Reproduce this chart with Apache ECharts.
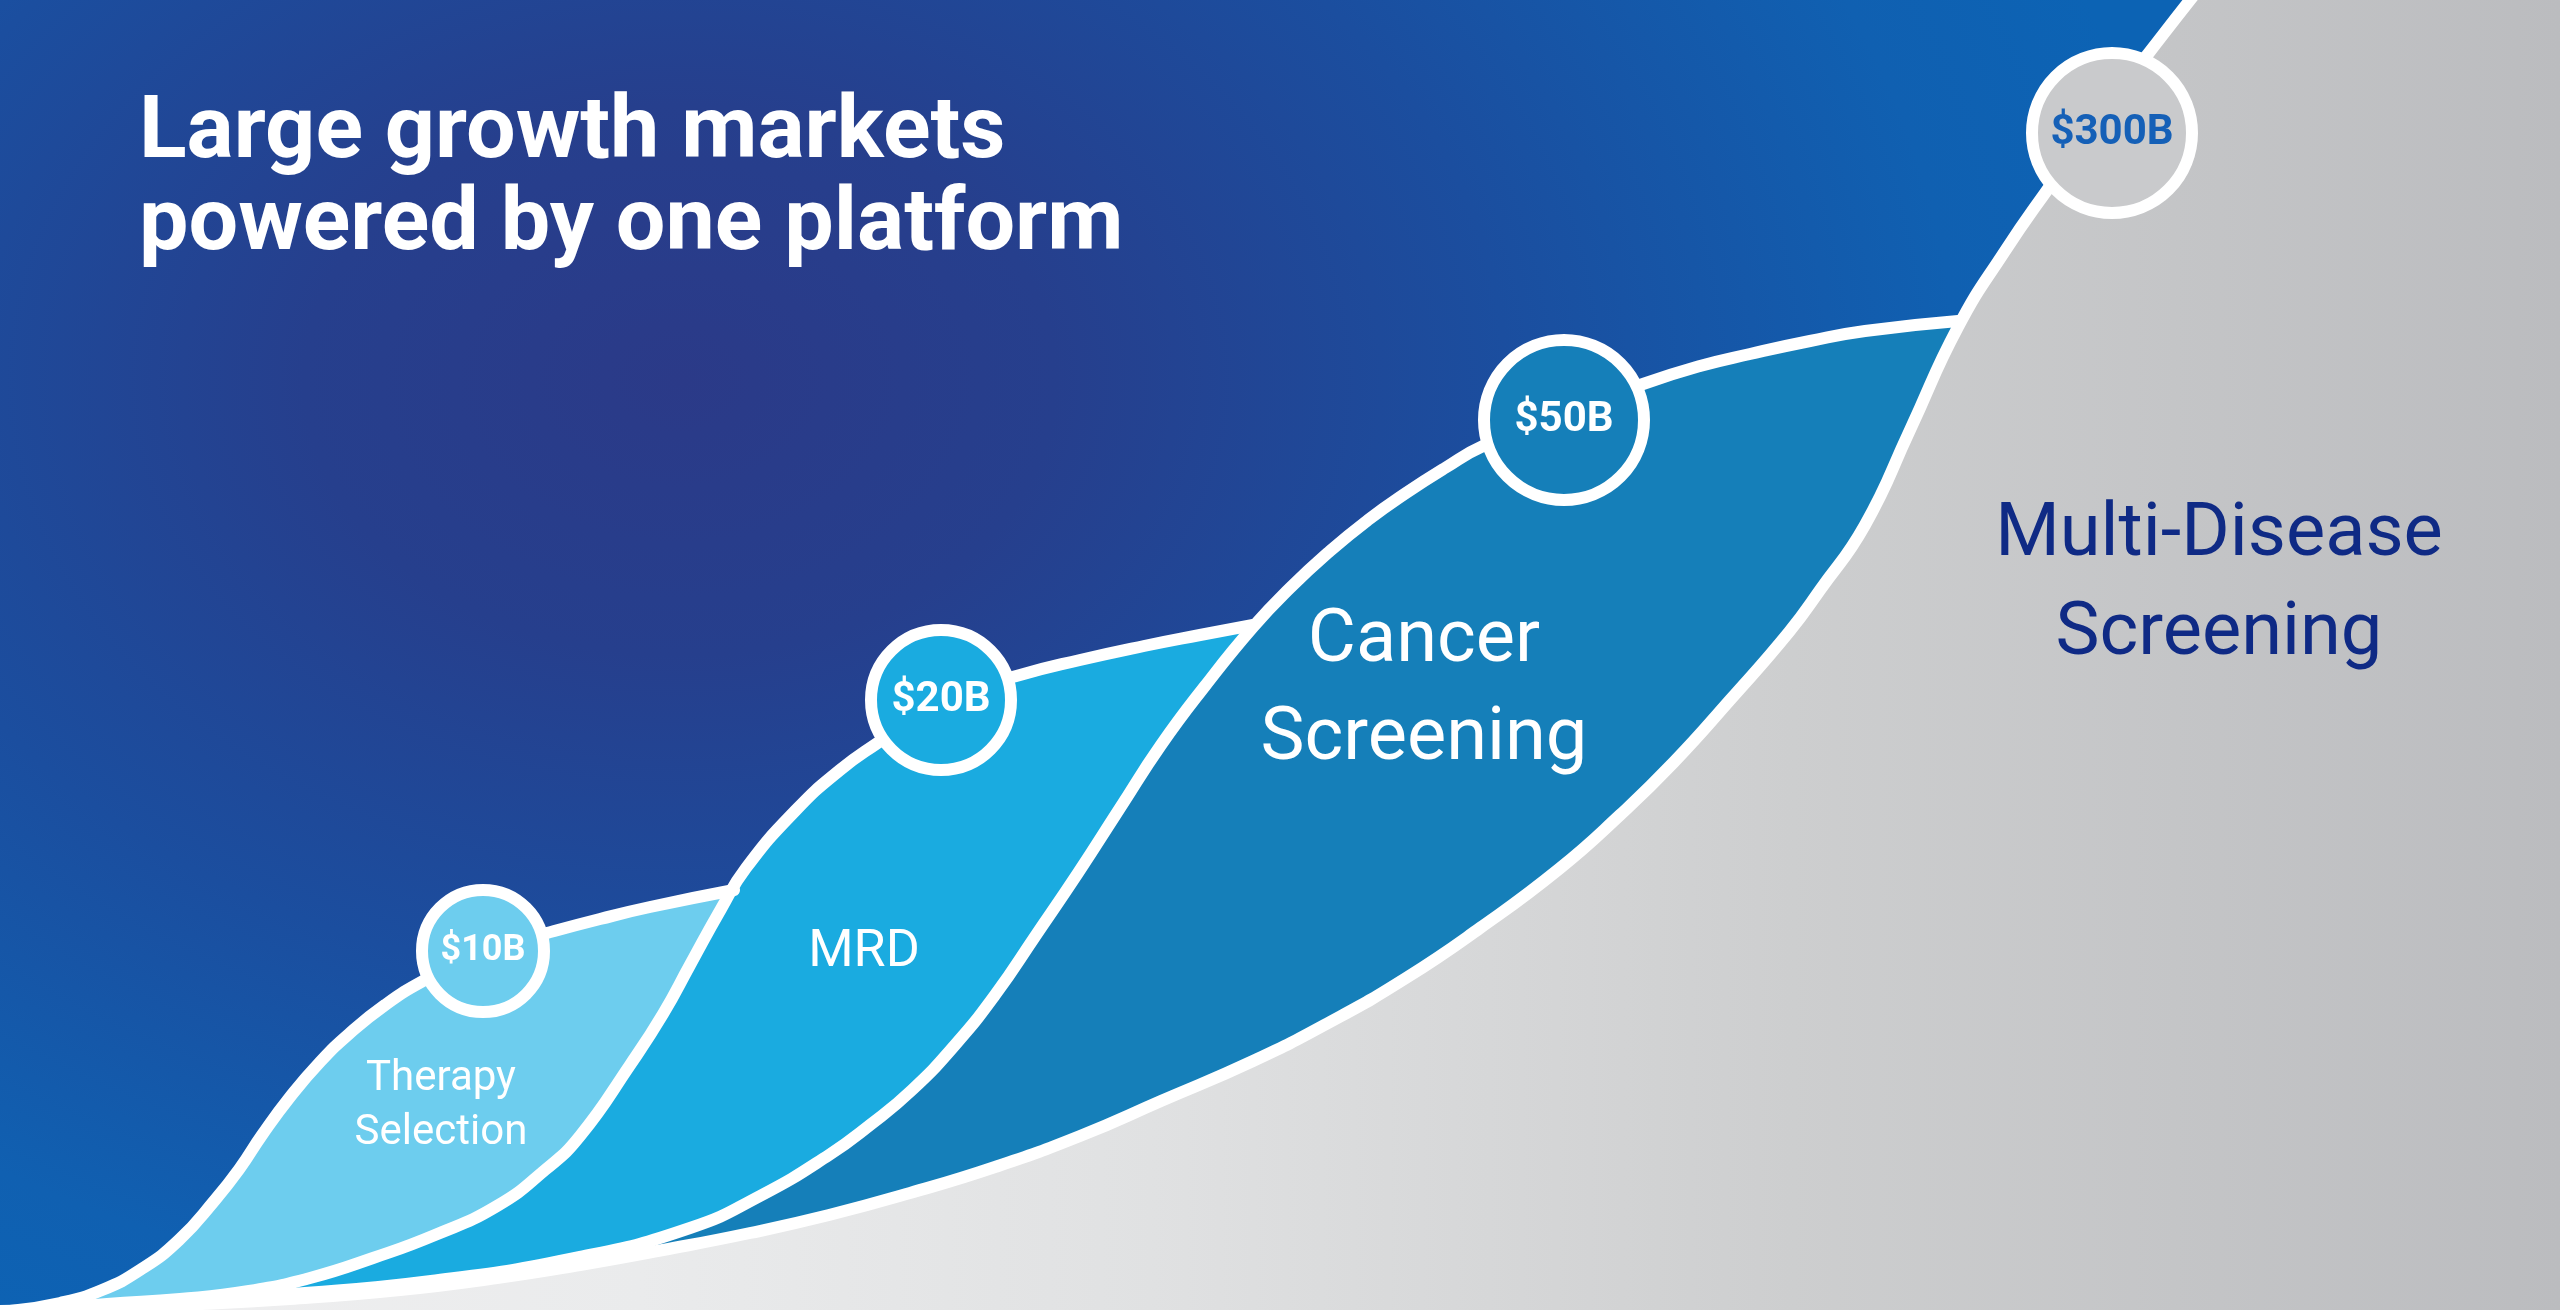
<!DOCTYPE html>
<html>
<head>
<meta charset="utf-8">
<script src="https://cdn.jsdelivr.net/npm/echarts@6/dist/echarts.min.js"></script>
<style>
  html, body { margin: 0; padding: 0; overflow: hidden; }
  #chart {
    width: 2560px;
    height: 1310px;
    background:
      radial-gradient(ellipse 1500px 1100px at 680px 380px,
        #2b3a88 0%, #263f8d 25%, #1b4e9f 55%, #1060b1 85%, #0c63b4 100%);
  }
</style>
</head>
<body>
<div id="chart"></div>
<script>
// Market segments, left to right
const markets = ['Therapy\nSelection', 'MRD', 'Cancer\nScreening', 'Multi-Disease\nScreening'];
// Addressable market size per segment, $B
const marketSize = [10, 20, 50, 300];

// Upper edge of each segment as [maturity, size index] points
const therapyEdge = [[1,-0.1],[6,0.7],[10.2,2.0],[14,4.0],[17.9,7.0],[21.5,11.0],[24,14.2],[26.2,17.5],[29,21.3],[32,24.8],[35,27.7],[38.5,30.5],[42.3,32.9],[48.3,35.9],[54.7,37.7],[60,39.1],[65,40.3],[73.4,42.0]];
const mrdEdge = [[3,-0.1],[10.7,0.6],[18,1.1],[24.9,1.9],[31,3.2],[37.3,5.2],[43.5,7.5],[49.7,10.4],[54.5,14.0],[58,17.4],[63,24.5],[66.3,29.6],[69,34.5],[72.1,40.1],[74.6,44.2],[79.6,50.0],[84,54.0],[87.9,56.8],[94.1,61.0],[102,63.5],[108,65.0],[114.4,66.4],[120,67.5],[125.3,68.5]];
const cancerEdge = [[8,-0.1],[18,0.7],[28.2,1.5],[43.1,2.9],[58,5.3],[69,8.2],[76,11.4],[82.9,15.5],[87,18.5],[91.2,22.0],[95.5,26.5],[99.5,31.5],[103.6,37.5],[107.8,43.7],[112,50.2],[116.1,56.5],[120.5,62.4],[125.3,68.3],[129,72.2],[133,75.9],[136.8,79.0],[140.6,81.7],[144.5,84.2],[148.3,86.4],[156.4,89.6],[164.3,92.6],[170,94.4],[175,95.6],[181,96.9],[186.5,97.9],[195.8,98.9]];
const multiEdge = [[0,-0.1],[8.3,0.1],[18,0.5],[29,1.1],[40,2.0],[49.7,3.2],[58,4.5],[66.3,6.0],[75,7.7],[82.9,9.5],[91,11.7],[99.5,14.3],[108,17.4],[116.1,20.9],[125.3,24.9],[133,28.8],[140.6,33.2],[148,38.2],[155.9,44.1],[162,49.5],[167.4,54.8],[173,61.0],[178.9,67.8],[182,72.0],[186.5,78.5],[191,88.0],[195.8,98.3],[200.5,105.9],[205,112.4],[210,119.4],[214.8,125.6],[219.4,131.5],[225,138.5],[233,148],[256,148]];

// Market-size badges and segment name positions
const badgeAt = [[48.3,35.9],[94.1,61.0],[156.4,89.0],[211.2,117.7]];
const nameAt = [[44.1,20.4],[86.4,35.7],[142.4,61.9],[221.9,72.45]];

const edges = [therapyEdge, mrdEdge, cancerEdge, multiEdge];
const grey = new echarts.graphic.LinearGradient(0, 0, 1, 0, [
  { offset: 0, color: '#f0f0f1' },
  { offset: 0.25, color: '#eaebec' },
  { offset: 0.45, color: '#e0e1e2' },
  { offset: 0.7, color: '#cdcecf' },
  { offset: 1, color: '#bbbcbf' }
]);
const fills = ['#6dcdee', '#1aabe0', '#157fb9', grey];
const badgeFill = ['#6dcdee', '#1aabe0', '#157fb9', '#c9cacc'];
const badgeText = ['#ffffff', '#ffffff', '#ffffff', '#1560b7'];
const badgeSize = [122, 140, 160, 160];
const badgeFont = [36, 42, 42, 42];
const nameColor = ['#ffffff', '#ffffff', '#ffffff', '#0f2a85'];
const nameFont = [42, 52, 74, 74];
const nameLine = [54, 60, 98, 99];

const chart = echarts.init(document.getElementById('chart'), null, { renderer: 'canvas' });

const series = [];
// filled segments, each later one covering the part below its own edge
edges.forEach((d, i) => {
  series.push({
    type: 'line', data: d, smooth: 0.5,
    showSymbol: false, silent: true, z: 2 + i,
    lineStyle: { width: 0, opacity: 0 },
    areaStyle: { color: fills[i], opacity: 1, origin: 'start' }
  });
});
// white outlines on top of all fills
edges.forEach((d) => {
  series.push({
    type: 'line', data: d, smooth: 0.5,
    showSymbol: false, silent: true, z: 10,
    lineStyle: { color: '#ffffff', width: 12, cap: 'round', join: 'round' }
  });
});
series.push({
  type: 'scatter', z: 20, silent: true,
  data: badgeAt.map((p, i) => ({
    value: [p[0], p[1], marketSize[i]],
    symbolSize: badgeSize[i],
    itemStyle: { color: badgeFill[i], borderColor: '#ffffff', borderWidth: 12, opacity: 1 },
    label: { color: badgeText[i], fontSize: badgeFont[i] }
  })),
  label: {
    show: true, position: 'inside', fontFamily: 'Roboto', fontWeight: 700,
    formatter: (p) => '$' + p.value[2] + 'B'
  }
});
series.push({
  type: 'scatter', z: 21, silent: true, symbolSize: 1,
  itemStyle: { color: 'rgba(0,0,0,0)', opacity: 1 },
  data: nameAt.map((p, i) => ({
    value: p, name: markets[i],
    label: { color: nameColor[i], fontSize: nameFont[i], lineHeight: nameLine[i], opacity: 1 }
  })),
  label: {
    show: true, position: 'inside', fontFamily: 'Roboto', fontWeight: 400,
    align: 'center', verticalAlign: 'middle', opacity: 1,
    formatter: (p) => p.name
  }
});

chart.setOption({
  animation: false,
  backgroundColor: 'transparent',
  title: {
    text: 'Large growth markets\npowered by one platform',
    left: 139, top: 89, padding: 0,
    textStyle: { color: '#ffffff', fontSize: 88, fontWeight: 700, fontFamily: 'Roboto', lineHeight: 92 }
  },
  grid: { left: 0, right: 0, top: 0, bottom: 0 },
  xAxis: { type: 'value', min: 0, max: 256, show: false },
  yAxis: { type: 'value', min: 0, max: 131, show: false },
  series: series
});
</script>
</body>
</html>
